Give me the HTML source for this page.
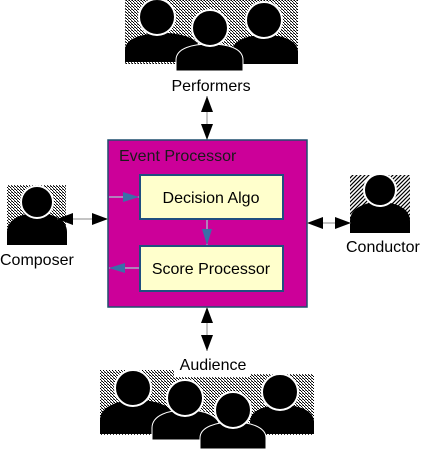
<!DOCTYPE html>
<html><head><style>
html,body{margin:0;padding:0;background:#fff;width:423px;height:449px;overflow:hidden}
svg{display:block}
text{font-family:"Liberation Sans",sans-serif;fill:#000}
</style></head><body>
<svg width="423" height="449" viewBox="0 0 423 449" xmlns="http://www.w3.org/2000/svg">
<defs>
<pattern id="h" width="3" height="3" patternUnits="userSpaceOnUse">
<rect width="3" height="3" fill="#fff"/>
<rect x="0" y="0" width="1" height="1" fill="#000"/>
<rect x="1" y="1" width="1" height="1" fill="#000"/>
<rect x="2" y="2" width="1" height="1" fill="#333"/>
<rect x="2" y="0" width="1" height="1" fill="#777"/>
</pattern>
<pattern id="d" width="4" height="4" patternUnits="userSpaceOnUse">
<rect width="4" height="4" fill="#fff"/>
<path d="M0,4 L4,0 M-1,1 L1,-1 M3,5 L5,3" stroke="#000" stroke-width="1.2"/>
</pattern>
<marker id="b" markerWidth="16" markerHeight="12" refX="16" refY="6" orient="auto-start-reverse" markerUnits="userSpaceOnUse">
<path d="M0,0 L16,6 L0,12 Z" fill="#000"/></marker>
<marker id="t" markerWidth="16" markerHeight="10" refX="16" refY="5" orient="auto" markerUnits="userSpaceOnUse">
<path d="M0,0 L16,5 L0,10 Z" fill="#3a6fa8"/></marker>
</defs>

<!-- Performers -->
<rect x="125" y="0" width="173" height="64" fill="url(#h)"/>
<path d="M125,62 V50 C125,38 144,33 162,33 C181,33 200,38 200,50 V62 Z" fill="#000"/>
<circle cx="157" cy="17" r="18" fill="#000" stroke="#fff" stroke-width="2"/>
<path d="M232,64 V52 C232,40 248,35 265,35 C282,35 298,40 298,52 V64 Z" fill="#000"/>
<circle cx="264" cy="20" r="18" fill="#000" stroke="#fff" stroke-width="2"/>
<path d="M176,71 V60 C176,48 193,44 210,44 C227,44 243,48 243,60 V71 Z" fill="#000" stroke="#fff" stroke-width="1"/>
<circle cx="210" cy="28" r="18" fill="#000" stroke="#fff" stroke-width="2"/>
<text x="211" y="91" font-size="16" text-anchor="middle">Performers</text>
<line x1="207" y1="96" x2="207" y2="140" stroke="#888" stroke-width="1" marker-start="url(#b)" marker-end="url(#b)"/>

<!-- Event processor -->
<rect x="108" y="140" width="199" height="167" fill="#cc0099" stroke="#1f4f6f" stroke-width="1.5"/>
<text x="119" y="161" font-size="16" style="fill:#1a1a1a">Event Processor</text>
<rect x="140" y="175" width="143" height="44" fill="#ffffcc" stroke="#1f4f7f" stroke-width="2"/>
<text x="211" y="203" font-size="16" text-anchor="middle">Decision Algo</text>
<rect x="140" y="246" width="143" height="45" fill="#ffffcc" stroke="#1f4f7f" stroke-width="2"/>
<text x="211" y="274" font-size="16" text-anchor="middle">Score Processor</text>
<line x1="109" y1="197" x2="139" y2="197" stroke="#9fd" stroke-width="1" marker-end="url(#t)"/>
<line x1="207" y1="220" x2="207" y2="245" stroke="#9fd" stroke-width="1" marker-end="url(#t)"/>
<line x1="139" y1="268" x2="109" y2="268" stroke="#9fd" stroke-width="1" marker-end="url(#t)"/>

<!-- Composer -->
<rect x="7" y="185" width="59" height="60" fill="url(#h)"/>
<path d="M7,245 V232 C7,219 22,213 37,213 C52,213 67,219 67,232 V245 Z" fill="#000"/>
<circle cx="37" cy="202" r="16" fill="#000" stroke="#fff" stroke-width="2"/>
<text x="0" y="265" font-size="16">Composer</text>
<line x1="57" y1="219" x2="108" y2="219" stroke="#888" stroke-width="1" marker-start="url(#b)" marker-end="url(#b)"/>

<!-- Conductor -->
<rect x="350" y="175" width="60" height="58" fill="url(#d)"/>
<path d="M350,233 V221 C350,208 365,202 380,202 C395,202 410,208 410,221 V233 Z" fill="#000"/>
<circle cx="380" cy="190" r="16" fill="#000" stroke="#fff" stroke-width="2"/>
<text x="346" y="252" font-size="16">Conductor</text>
<line x1="307" y1="223" x2="351" y2="223" stroke="#888" stroke-width="1" marker-start="url(#b)" marker-end="url(#b)"/>

<!-- Audience -->
<line x1="207" y1="307" x2="207" y2="351" stroke="#888" stroke-width="1" marker-start="url(#b)" marker-end="url(#b)"/>
<rect x="100" y="370" width="74" height="65" fill="url(#h)"/>
<rect x="174" y="377" width="76" height="60" fill="url(#h)"/>
<rect x="250" y="374" width="64" height="61" fill="url(#h)"/>
<text x="213" y="370" font-size="16" text-anchor="middle">Audience</text>
<path d="M100,434 V420 C100,406 119,400 137,400 C156,400 175,406 175,420 V434 Z" fill="#000"/>
<circle cx="133" cy="388" r="18" fill="#000" stroke="#fff" stroke-width="2"/>
<path d="M250,434 V422 C250,410 266,405 282,405 C298,405 314,410 314,422 V434 Z" fill="#000"/>
<circle cx="280" cy="392" r="18" fill="#000" stroke="#fff" stroke-width="2"/>
<path d="M152,440 V428 C152,415 169,410 186,410 C203,410 220,415 220,428 V440 Z" fill="#000" stroke="#fff" stroke-width="1"/>
<circle cx="185" cy="398" r="18" fill="#000" stroke="#fff" stroke-width="2"/>
<path d="M200,449 V438 C200,427 216,422 233,422 C250,422 266,427 266,438 V449 Z" fill="#000" stroke="#fff" stroke-width="1"/>
<circle cx="233" cy="410" r="18" fill="#000" stroke="#fff" stroke-width="2"/>
</svg>
</body></html>
